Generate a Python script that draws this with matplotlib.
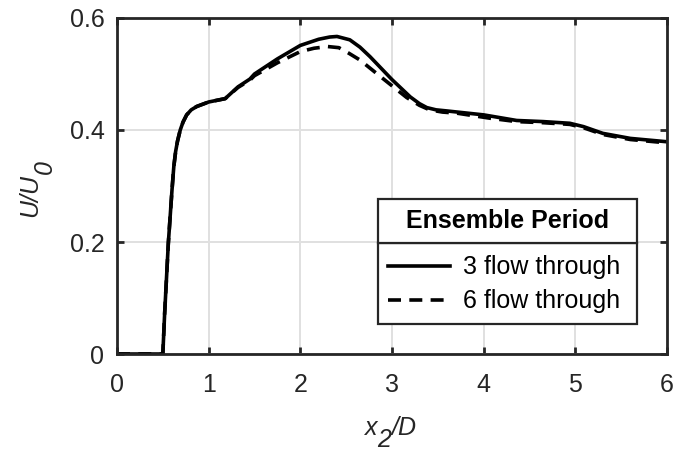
import numpy as np
import matplotlib
matplotlib.use('Agg')
from matplotlib import pyplot as plt
from matplotlib.patches import Rectangle

plt.rcParams['font.family'] = ['Liberation Sans', 'DejaVu Sans']

# mean velocity profiles along x2/D for the two ensemble periods
x_3ft = [0.0, 0.50, 0.52, 0.56, 0.60, 0.62, 0.64, 0.66, 0.69, 0.72, 0.76, 0.81, 0.87,
         1.00, 1.18, 1.32, 1.45, 1.50, 1.75, 2.00, 2.20, 2.32, 2.40, 2.54, 2.65, 2.76,
         3.00, 3.20, 3.30, 3.38, 3.48, 3.60, 4.00, 4.36, 4.65, 4.94, 5.09, 5.30, 5.60, 6.00]
u_3ft = [0.0, 0.0, 0.073, 0.198, 0.293, 0.335, 0.362, 0.380, 0.400, 0.414, 0.427, 0.436, 0.442,
         0.450, 0.456, 0.477, 0.491, 0.500, 0.527, 0.551, 0.562, 0.566, 0.567, 0.561, 0.548, 0.531,
         0.490, 0.459, 0.447, 0.440, 0.436, 0.434, 0.427, 0.417, 0.415, 0.412, 0.406, 0.394, 0.385, 0.379]

x_6ft = [0.0, 0.50, 0.52, 0.56, 0.60, 0.62, 0.64, 0.66, 0.69, 0.72, 0.76, 0.81, 0.87,
         1.00, 1.18, 1.32, 1.45, 1.50, 1.75, 2.00, 2.15, 2.30, 2.42, 2.53, 2.65, 2.90,
         3.16, 3.30, 3.41, 3.55, 3.71, 4.07, 4.36, 4.65, 4.94, 5.09, 5.30, 5.60, 6.00]
u_6ft = [0.0, 0.0, 0.073, 0.198, 0.293, 0.335, 0.362, 0.380, 0.400, 0.414, 0.427, 0.436, 0.442,
         0.450, 0.456, 0.476, 0.489, 0.497, 0.520, 0.540, 0.546, 0.549, 0.547, 0.537, 0.525, 0.492,
         0.458, 0.444, 0.436, 0.432, 0.430, 0.421, 0.415, 0.413, 0.410, 0.404, 0.392, 0.383, 0.377]

labels = ['3 flow through', '6 flow through']
xticks = [0, 1, 2, 3, 4, 5, 6]
yticks = [0, 0.2, 0.4, 0.6]
yticklabels = ['0', '0.2', '0.4', '0.6']

axcol = '#262626'
fs = 18

f = plt.figure(figsize=(6.85, 4.53), dpi=100)
ax = f.add_axes([0.1708, 0.2185, 0.8029, 0.7418])

ax.plot(x_3ft, u_3ft, '-', color='k', lw=2.6, label=labels[0], solid_joinstyle='round')
ax.plot(x_6ft, u_6ft, color='k', lw=2.6, linestyle=(0, (3.6, 2.3)), label=labels[1])

ax.set_xlim(0, 6); ax.set_ylim(0, 0.6)
ax.set_xticks(xticks); ax.set_yticks(yticks)
ax.set_xticklabels([str(t) for t in xticks])
ax.set_yticklabels(yticklabels)
ax.grid(True, color='#e0e0e0', lw=1.4)
ax.set_axisbelow(True)
ax.tick_params(direction='in', length=5, width=2, colors=axcol, labelsize=fs,
               top=True, right=True, labelcolor=axcol)
ax.tick_params(axis='x', pad=14)
ax.tick_params(axis='y', pad=9)
for s in ax.spines.values():
    s.set_linewidth(2.0); s.set_color(axcol)

# axis labels with full-size lowered subscripts
kw = dict(fontsize=fs, style='italic', color=axcol)
t1 = f.text(365 / 685, 1 - 435 / 453, 'x', ha='left', va='baseline', **kw)
t2 = ax.annotate('2', xy=(1, 0), xycoords=t1, xytext=(0, -8.5), textcoords='offset points',
                 ha='left', va='bottom', **kw)
ax.annotate('/D', xy=(1, 0), xycoords=t2, xytext=(0, 8.5), textcoords='offset points',
            ha='left', va='bottom', **kw)
u1 = f.text(42 / 685, 1 - 217 / 453, 'U/U', rotation=90, ha='right', va='bottom', **kw)
ax.annotate('0', xy=(1, 1), xycoords=u1, xytext=(10.5, 0), textcoords='offset points',
            rotation=90, ha='right', va='bottom', **kw)

# legend box with a separate title cell
x0, x1 = 0.4745, 0.9455
yb, ym, yt = 0.0893, 0.3304, 0.4613
ax.add_patch(Rectangle((x0, yb), x1 - x0, ym - yb, transform=ax.transAxes,
                       facecolor='white', edgecolor=axcol, lw=1.6, zorder=5))
ax.add_patch(Rectangle((x0, ym), x1 - x0, yt - ym, transform=ax.transAxes,
                       facecolor='white', edgecolor=axcol, lw=1.6, zorder=5))
ax.text((x0 + x1) / 2, (ym + yt) / 2, 'Ensemble Period', transform=ax.transAxes,
        ha='center', va='center', fontsize=fs, fontweight='bold', zorder=6)
leg = ax.legend(loc='center left', bbox_to_anchor=(0.4927, 0.207),
                frameon=False, fontsize=fs, handlelength=2.5, handletextpad=0.5,
                labelspacing=0.4, borderaxespad=0, borderpad=0)
leg.set_zorder(7)

plt.savefig('out.png', dpi=100)
